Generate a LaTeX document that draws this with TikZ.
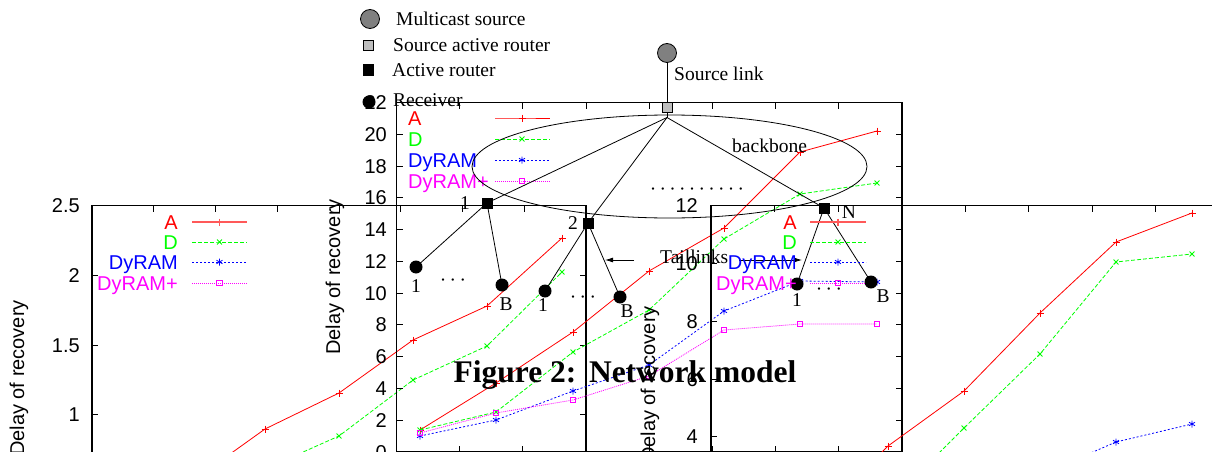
\documentclass[tikz,border=0pt]{standalone}
\usepackage{fontspec}
\setmainfont{Liberation Serif}
\newfontfamily\plotfont{Liberation Sans}
\usetikzlibrary{plotmarks,arrows.meta}
\definecolor{gpgreen}{RGB}{0,255,0}
\definecolor{gpmagenta}{RGB}{255,0,255}
\definecolor{srcgray}{RGB}{128,128,128}
\definecolor{routergray}{RGB}{190,190,190}
\newcommand\tightdot{\hspace{-1.6pt}·}
\tikzset{
  frame/.style={line width=1.2pt},
  tickmark/.style={line width=1pt},
  gpfont/.style={font=\plotfont\fontsize{20}{24}\selectfont, inner sep=0pt},
  ticklabel/.style={gpfont, anchor=base east},
  axislabel/.style={gpfont, rotate=90},
  serA/.style={red, line width=0.8pt, mark=+, mark size=3.5pt, mark options={solid}},
  serD/.style={gpgreen, line width=0.8pt, dash pattern=on 4pt off 2pt, mark=x, mark size=3.5pt, mark options={solid}},
  serR/.style={blue, line width=0.8pt, dash pattern=on 2pt off 2pt, mark=asterisk, mark size=3.5pt, mark options={solid}},
  serP/.style={gpmagenta, line width=0.8pt, dash pattern=on 1pt off 1pt, mark=square, mark size=2.7pt, mark options={solid}},
  thickA/.style={serA, line width=1.8pt, red!65},
  netfont/.style={font=\fontsize{19.5}{23}\selectfont, inner sep=0pt},
  link/.style={line width=0.8pt},
  sourcenode/.style={circle, draw=black, line width=0.8pt, fill=srcgray, minimum size=19pt, inner sep=0pt},
  srcrouter/.style={rectangle, draw=black, line width=0.8pt, fill=routergray, minimum size=10pt, inner sep=0pt},
  activerouter/.style={rectangle, fill=black, minimum size=11pt, inner sep=0pt},
  receiver/.style={circle, fill=black, minimum size=13pt, inner sep=0pt},
  tailarrow/.style={link, -{Latex[length=8pt,width=5pt]}},
}
\begin{document}
\begin{tikzpicture}[x=1pt,y=-1pt]
\useasboundingbox (0,0) rectangle (1212,452);

% ---------------- left plot: scale 1 .. 2.5 ----------------
\draw[frame] (92,480) -- (92,205.7) -- (586,205.7) -- (586,480);
\foreach \v in {2.5,2,1.5,1,0.5} {
  \draw[tickmark] (92,{205.7+(2.5-\v)*139.4}) -- ++(6,0);
  \draw[tickmark] (586,{205.7+(2.5-\v)*139.4}) -- ++(-6,0);
}
\foreach \v in {2.5,2,1.5,1}
  \node[ticklabel] at (80,{205.7+(2.5-\v)*139.4+7}) {\v};
\foreach \k in {1,...,7}
  \draw[tickmark] ({92+61.75*\k},205.7) -- ++(0,6);
\node[axislabel] (ylabA) at (19,378) {Delay of recovery};
\node[gpfont, anchor=base east, red] (keyAa) at (178,229) {A};
\node[gpfont, anchor=base east, gpgreen] (keyAd) at (178,249) {D};
\node[gpfont, anchor=base east, blue] (keyAr) at (178,269) {DyRAM};
\node[gpfont, anchor=base east, gpmagenta] (keyAp) at (178,290) {DyRAM+};
\draw[thickA] plot[mark indices={2}] coordinates {(192,222) (219.5,222) (247,222)};
\draw[serD] plot[mark indices={2}] coordinates {(192,242) (219.5,242) (247,242)};
\draw[serR] plot[mark indices={2}] coordinates {(192,262) (219.5,262) (247,262)};
\draw[serP] plot[mark indices={2}] coordinates {(192,283) (219.5,283) (247,283)};
\draw[serA] plot coordinates {(191,482) (265,429) (339,393) (413,340) (487,306) (562,238)};
\draw[serD] plot coordinates {(265,469) (339,436) (413,380) (487,346) (562,272)};

% ---------------- middle plot: scale 0 .. 22 ----------------
\draw[frame] (396.5,102.7) rectangle (902,452);
\foreach \v in {0,2,...,22} {
  \draw[tickmark] (396.5,{452-15.88*\v}) -- ++(6,0);
  \draw[tickmark] (902,{452-15.88*\v}) -- ++(-6,0);
  \node[ticklabel] at (387,{452-15.88*\v+7}) {\v};
}
\foreach \k in {1,...,7} {
  \draw[tickmark] ({396.5+63.19*\k},102.7) -- ++(0,6);
  \draw[tickmark] ({396.5+63.19*\k},452) -- ++(0,-6);
}
\node[axislabel] (ylabB) at (335,277) {Delay of recovery};
\node[gpfont, anchor=base west, red] (keyBa) at (408,125) {A};
\node[gpfont, anchor=base west, gpgreen] (keyBd) at (408,146) {D};
\node[gpfont, anchor=base west, blue] (keyBr) at (408,167) {DyRAM};
\node[gpfont, anchor=base west, gpmagenta] (keyBp) at (408,188) {DyRAM+};
\draw[serA] plot[mark indices={2}] coordinates {(495,118) (522,118) (550,118)};
\draw[serD] plot[mark indices={2}] coordinates {(495,139) (522,139) (550,139)};
\draw[serR] plot[mark indices={2}] coordinates {(495,160) (522,160) (550,160)};
\draw[serP] plot[mark indices={2}] coordinates {(495,181) (522,181) (550,181)};
\draw[serA] plot coordinates {(420,430) (496,383) (573,332) (649,271) (724,228) (800,152) (877,131)};
\draw[serD] plot coordinates {(420,430) (496,412) (573,352) (649,310) (724,239) (800,194) (877,183)};
\draw[serR] plot coordinates {(420,436) (496,420) (573,391) (649,365) (724,311) (800,281) (877,282)};
\draw[serP] plot coordinates {(420,433) (496,413) (573,400) (649,376) (724,330) (800,324) (877,324)};

% ---------------- network model ----------------
% key
\node[sourcenode] (keysrc) at (370,19) {};
\node[netfont, anchor=base west] (keysrct) at (396,26) {Multicast source};
\node[srcrouter] (keysar) at (368,45) {};
\node[netfont, anchor=base west] (keysart) at (393,51.5) {Source active router};
\node[activerouter] (keyar) at (368,70) {};
\node[netfont, anchor=base west] (keyart) at (392,76.5) {Active router};
\node[receiver] (keyrec) at (369,102) {};
\node[netfont, anchor=base west] (keyrect) at (393,106) {Receiver};

% source and backbone
\node[sourcenode] (src) at (667,53) {};
\node[srcrouter] (sar) at (667,107) {};
\coordinate (hub) at (667,117.5);
\draw[link] (src) -- (sar);
\draw[link] (sar) -- (hub);
\node[netfont, anchor=base west] (srclink) at (674,81) {Source link};
\draw[link] (669.5,166.5) ellipse [x radius=197.5pt, y radius=51.5pt];
\node[netfont, anchor=base west] (bbone) at (732,152) {backbone};
\node[netfont] (bbdots) at (697,192) {· \tightdot{} \tightdot{} \tightdot{} \tightdot{} \tightdot{} \tightdot{} \tightdot{} \tightdot{} \tightdot};

% active routers
\node[activerouter] (r1) at (487,203) {};
\node[activerouter] (r2) at (588,223) {};
\node[activerouter] (rN) at (824,208) {};
\node[netfont, anchor=base] (r1l) at (465,209) {1};
\node[netfont, anchor=base] (r2l) at (573,229) {2};
\node[netfont, anchor=base] (rNl) at (849,218) {N};
\draw[link] (hub) -- (r1.center);
\draw[link] (hub) -- (r2.center);
\draw[link] (hub) -- (rN.center);

% receivers
\node[receiver] (r1a) at (416,267) {};
\node[receiver] (r1b) at (502,285) {};
\node[receiver] (r2a) at (545,291) {};
\node[receiver] (r2b) at (620,297) {};
\node[receiver] (rNa) at (797,284) {};
\node[receiver] (rNb) at (871,282) {};
\foreach \p/\q in {r1/r1a, r1/r1b, r2/r2a, r2/r2b, rN/rNa, rN/rNb}
  \draw[link] (\p.center) -- (\q.center);
\node[netfont, anchor=base] (r1al) at (416,292) {1};
\node[netfont, anchor=base] (r1bl) at (506,310) {B};
\node[netfont, anchor=base] (r2al) at (543,311) {1};
\node[netfont, anchor=base] (r2bl) at (627,317) {B};
\node[netfont, anchor=base] (rNal) at (797,306) {1};
\node[netfont, anchor=base] (rNbl) at (883,302) {B};
\node[netfont] (r1dots) at (453,283) {· \tightdot{} \tightdot};
\node[netfont] (r2dots) at (583,300) {· \tightdot{} \tightdot};
\node[netfont] (rNdots) at (829,292) {· \tightdot{} \tightdot};

% tail links
\node[netfont, anchor=base west] (tail) at (660,263) {Taillinks};
\coordinate (tailLfrom) at (634,260);
\coordinate (tailLto) at (605,260);
\coordinate (tailRfrom) at (739,260);
\coordinate (tailRto) at (802,260);
\draw[tailarrow] (tailLfrom) -- (tailLto);
\draw[tailarrow] (tailRfrom) -- (tailRto);

\node[font=\bfseries\fontsize{31.5}{36}\selectfont, inner sep=0pt, anchor=base] (caption) at (625,382) {Figure 2:\hspace{0.4em}Network model};

% ---------------- right plot: scale 4 .. 12 ----------------
\draw[frame] (711,520) -- (711,205.7) -- (1219,205.7) -- (1219,520);
\foreach \v in {12,10,8,6,4,2}
  \draw[tickmark] (711,{205.7+(12-\v)*28.9}) -- ++(6,0);
\foreach \v in {12,10,8,6,4}
  \node[ticklabel] at (698,{205.7+(12-\v)*28.9+7}) {\v};
\foreach \k in {1,...,7}
  \draw[tickmark] ({711+63.5*\k},205.7) -- ++(0,6);
\node[axislabel] (ylabC) at (650,384) {Delay of recovery};
\node[gpfont, anchor=base east, red] (keyCa) at (797,229) {A};
\node[gpfont, anchor=base east, gpgreen] (keyCd) at (797,249) {D};
\node[gpfont, anchor=base east, blue] (keyCr) at (797,269) {DyRAM};
\node[gpfont, anchor=base east, gpmagenta] (keyCp) at (797,290) {DyRAM+};
\draw[thickA] plot[mark indices={2}] coordinates {(810,222) (838,222) (866,222)};
\draw[serD] plot[mark indices={2}] coordinates {(810,242) (838,242) (866,242)};
\draw[serR] plot[mark indices={2}] coordinates {(810,262) (838,262) (866,262)};
\draw[serP] plot[mark indices={2}] coordinates {(810,283) (838,283) (866,283)};
\draw[serA] plot coordinates {(812,522) (888,446) (964,391) (1040,313) (1116,242) (1192,213)};
\draw[serD] plot coordinates {(888,504) (964,428) (1040,354) (1116,262) (1192,254)};
\draw[serR] plot coordinates {(1040,475) (1116,442) (1192,424)};
\end{tikzpicture}
\end{document}
